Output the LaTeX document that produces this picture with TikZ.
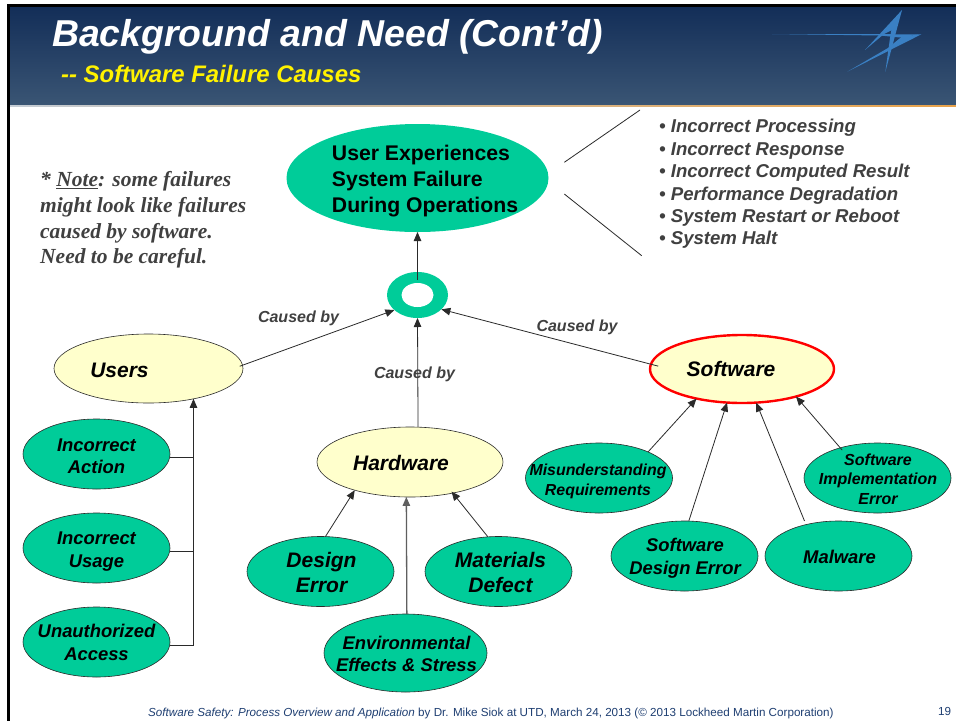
\documentclass[tikz,border=0pt]{standalone}
\usepackage{fontspec}
\setmainfont{Liberation Sans}
\newfontfamily\notefont{Liberation Serif}
\usetikzlibrary{shapes.geometric,arrows.meta}
\definecolor{leaf}{HTML}{00CC99}
\definecolor{cream}{HTML}{FFFFCC}
\definecolor{greytext}{HTML}{404040}
\definecolor{wire}{HTML}{2A2A2A}
\definecolor{headtop}{HTML}{132E58}
\definecolor{headbot}{HTML}{3A5574}
\definecolor{logoblue}{HTML}{3A80C4}
\definecolor{footblue}{HTML}{1F3F72}
\definecolor{hiorange}{HTML}{E8A24A}
\newcommand\fsz[2]{\fontsize{#1pt}{#2pt}\selectfont}
% text placed on a node without changing the node's size; dx right, dy down from the centre
\newcommand\nt[4][c]{\smash{\makebox[0pt]{\hspace*{#2pt}\hspace*{#2pt}\raisebox{\dimexpr(\depth-\height)/2-#3pt-2.5pt\relax}{\renewcommand\arraystretch{1}\begin{tabular}{@{}#1@{}}#4\end{tabular}}}}}
\tikzset{
  x=1pt,y=-1pt,
  oval/.style={ellipse,inner sep=0pt,outer sep=0pt,font=\bfseries\itshape},
  leafnode/.style={oval,draw=wire,line width=.6pt,fill=leaf,minimum width=147pt,minimum height=70pt},
  causenode/.style={oval,draw=wire,line width=.6pt,fill=cream,minimum width=187pt,minimum height=70pt},
  conn/.style={-{Triangle[length=9pt,width=7.5pt]},draw=wire,line width=.8pt},
  plain wire/.style={draw=wire,line width=.8pt},
  causedlabel/.style={font=\fsz{16}{19}\bfseries\itshape,text=greytext,inner sep=0pt},
}
\begin{document}
\begin{tikzpicture}
\useasboundingbox (0,0) rectangle (956,721);
\fill[white] (0,0) rectangle (956,721);
% frame and header
\fill[black] (7,4) rectangle (956,7);
\fill[black] (7,4) rectangle (10,721);
\shade[top color=headtop,bottom color=headbot] (10,7) rectangle (956,105);
\shade[left color=white!70!headbot,right color=hiorange] (10,105) rectangle (956,106.5);
% logo
\fill[logoblue] (772,34) -- (921.3,34.3) -- (900,37.5) -- (880,35.5) -- cycle;
\fill[logoblue] (847.3,71.7) -- (921.3,34.3) -- (902,36.5) -- (888,48) -- cycle;
\fill[logoblue] (902,10) -- (885.3,72) -- (890,38) -- (892,26) -- cycle;
\fill[logoblue] (902,10) -- (865,50) -- (884,34) -- (892,30) -- cycle;
\node[anchor=west,inner sep=0pt,text=white,font=\fsz{37.4}{42}\bfseries\itshape] (title) at (52,36.5) {Background and Need (Cont’d)};
\node[anchor=west,inner sep=0pt,text=yellow,font=\fsz{23.9}{27}\bfseries\itshape] (subtitle) at (61,74) {-{}- Software Failure Causes};
% ovals
\node[oval,fill=leaf,minimum width=262pt,minimum height=108pt,font=\fsz{21.2}{25.7}\bfseries] (top) at (417.5,178) {\nt[l]{7.5}{1}{User Experiences\\System Failure\\During Operations}};
\node[oval,fill=leaf,minimum width=61pt,minimum height=46pt] (ring) at (417.5,295) {};
\node[oval,fill=white,minimum width=32pt,minimum height=24pt] (hole) at (417.5,295) {};
\node[causenode,minimum width=189pt,minimum height=69pt,font=\fsz{21}{25}\bfseries\itshape] (users) at (148.5,368.5) {\nt{-29}{1}{Users}};
\node[causenode,minimum width=186pt,font=\fsz{21}{25}\bfseries\itshape] (hardware) at (410,462) {\nt{-9}{1}{Hardware}};
\node[causenode,draw=red,line width=2.4pt,minimum width=184pt,minimum height=68pt,font=\fsz{21}{25}\bfseries\itshape] (software) at (742,369) {\nt{-11}{0}{Software}};
\node[leafnode,font=\fsz{18.4}{22.5}\bfseries\itshape] (action) at (96.5,454) {\nt{0}{1.3}{Incorrect\\Action}};
\node[leafnode,font=\fsz{18.4}{22.5}\bfseries\itshape] (usage) at (96.5,548) {\nt{0}{1}{Incorrect\\Usage}};
\node[leafnode,font=\fsz{18.4}{22.5}\bfseries\itshape] (unauth) at (96.5,642) {\nt{0}{0}{Unauthorized\\Access}};
\node[leafnode,font=\fsz{21}{25}\bfseries\itshape] (herror) at (320.5,571.5) {\nt{1}{0.5}{Design\\Error}};
\node[leafnode,font=\fsz{21}{25}\bfseries\itshape] (materials) at (498.5,571.5) {\nt{2}{0.5}{Materials\\Defect}};
\node[leafnode,minimum width=163pt,minimum height=78pt,font=\fsz{18.4}{21.7}\bfseries\itshape] (env) at (405.5,653) {\nt{1}{0.5}{Environmental\\Effects \& Stress}};
\node[leafnode,font=\fsz{15.9}{19.3}\bfseries\itshape] (misund) at (599,478) {\nt{-1}{1}{Misunderstanding\\Requirements}};
\node[leafnode,font=\fsz{18.4}{23.4}\bfseries\itshape] (swdesign) at (684.5,556) {\nt{0.5}{0}{Software\\Design Error}};
\node[leafnode,font=\fsz{18.4}{22}\bfseries\itshape] (malware) at (838.5,556) {\nt{1}{0.5}{Malware}};
\node[leafnode,font=\fsz{16}{19.2}\bfseries\itshape] (impl) at (877.5,478) {\nt{0.5}{0.5}{Software\\Implementation\\Error}};
% connectors
\draw[conn,shorten <=15pt] (ring.center) -- (top.south);
\draw[conn,shorten <=-3pt] (users.2) -- (ring.213);
\draw[conn] (hardware.77.9) -- (ring.south);
\draw[conn,shorten <=-7.5pt] (software.177) -- (ring.-31.5);
\draw[plain wire] (action.-3) -| (users.-34.2);
\draw[plain wire] (usage.-3) -| (users.-34.2);
\draw[conn] (unauth.-3) -| (users.-34.2);
\draw[conn] (herror.82.6) -- (hardware.207.3);
\draw[conn,line width=1.3pt,draw=wire!75!white] (env.88.2) -- (hardware.264.6);
\draw[conn,shorten >=-2pt] (materials.107.8) -- (hardware.-36.1);
\draw[conn] (misund.28.5) -- (software.213);
\draw[conn] (swdesign.83.8) -- (software.246);
\draw[conn,shorten <=4pt] (malware.136) -- (software.-67);
\draw[conn,shorten <=-3pt] (impl.141) -- (software.-27);
% list pointers
\coordinate (pa) at (564.3,162.3);
\coordinate (pb) at (640,110);
\coordinate (pc) at (564.3,194);
\coordinate (pd) at (641.7,255.7);
\draw[plain wire] (pa) -- (pb);
\draw[plain wire] (pc) -- (pd);
% labels
\node[causedlabel] (c1) at (298.5,318) {Caused by};
\node[causedlabel] (c2) at (414.5,374.5) {Caused by};
\node[causedlabel] (c3) at (577,327.5) {Caused by};
\node[anchor=west,inner sep=0pt,align=left,text=greytext,font=\fsz{18.6}{22.4}\bfseries\itshape] (effects) at (659,184) {• Incorrect Processing\\• Incorrect Response\\• Incorrect Computed Result\\• Performance Degradation\\• System Restart or Reboot\\• System Halt};
\node[anchor=west,inner sep=0pt,align=left,text=greytext,font=\notefont\fsz{21.5}{25.7}\bfseries\itshape] (note) at (40,220) {* \underline{Note}: some failures\\might look like failures\\caused by software.\\Need to be careful.};
\node[anchor=west,inner sep=0pt,text=footblue,font=\fsz{11.66}{13}] (foot) at (148,713) {\textit{Software Safety: Process Overview and Application} by Dr. Mike Siok at UTD, March 24, 2013 (© 2013 Lockheed Martin Corporation)};
\node[anchor=west,inner sep=0pt,text=footblue,font=\fsz{11.66}{13}] (pageno) at (938,711) {19};
\end{tikzpicture}
\end{document}
